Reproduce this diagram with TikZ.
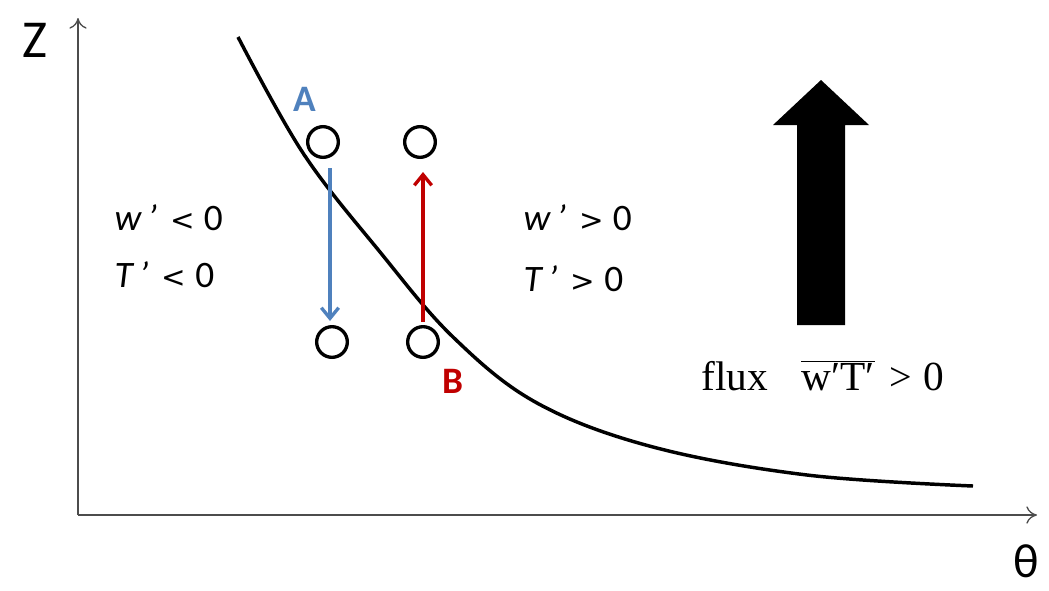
\documentclass[tikz,border=0pt]{standalone}
\usepackage{fontspec}
\setmainfont{Liberation Serif}
\setsansfont{Carlito}
\newfontfamily\relfont{DejaVu Sans}
\usetikzlibrary{arrows.meta}
\definecolor{ablue}{RGB}{79,129,189}
\definecolor{bred}{RGB}{192,0,0}
\newcommand{\rel}[1]{{\upshape\relfont\fontsize{22}{26}\selectfont #1}}
\begin{document}
\begin{tikzpicture}[x=0.75pt,y=-0.75pt,
  axis/.style={draw=black!70,line width=1pt,-{To[length=8pt,width=13pt]}},
  parcel/.style={circle,draw=black,line width=2.5pt,minimum size=23pt,inner sep=0pt},
  lbl/.style={font=\sffamily\itshape\fontsize{28}{32}\selectfont,anchor=west},
  pt/.style={font=\sffamily\bfseries\fontsize{28}{32}\selectfont}]
\useasboundingbox (0,0) rectangle (1049,590);
\coordinate (O) at (78,515);
\coordinate (ytop) at (78,18);
\coordinate (xend) at (1037,515);
\draw[axis] (O) -- (ytop);
\draw[axis] (O) -- (xend);
\node[font=\sffamily\fontsize{40}{44}\selectfont] (Z) at (35,40) {Z};
\node[font=\sffamily\fontsize{36}{40}\selectfont] (th) at (1026,561) {θ};
% curve
\draw[line width=2.6pt] plot[smooth,tension=0.6] coordinates {(238,37) (303,153) (380,252) (453,337) (537,403) (653,447) (807,475) (973,486)};
% parcels
\node[parcel] (a1) at (323,142) {};
\node[parcel] (b1) at (420,142) {};
\node[parcel] (a2) at (332,342) {};
\node[parcel] (b2) at (423,342) {};
\coordinate (as) at (330,168);
\coordinate (ae) at (330,321);
\coordinate (bs) at (423,322);
\coordinate (be) at (423,172);
\draw[ablue,line width=2.5pt,-{Straight Barb[length=8pt,width=13pt,line width=2.5pt]}] (as) -- (ae);
\draw[bred,line width=2.5pt,-{Straight Barb[length=8pt,width=13pt,line width=2.5pt]}] (bs) -- (be);
\node[pt,text=ablue] (A) at (305,99) {A};
\node[pt,text=bred] (B) at (453,381) {B};
% labels
\node[lbl] (l1) at (110,218) {w\,’\hspace{0.35em}\rel{<}\hspace{0.25em}\textup{0}};
\node[lbl] (l2) at (110,275) {T\,’\hspace{0.35em}\rel{<}\hspace{0.25em}\textup{0}};
\node[lbl] (r1) at (519,218) {w\,’\hspace{0.35em}\rel{>}\hspace{0.25em}\textup{0}};
\node[lbl] (r2) at (519,279) {T\,’\hspace{0.35em}\rel{>}\hspace{0.25em}\textup{0}};
% big arrow
\fill[black] (797,325) -- (797,125) -- (773,125) -- (821,80) -- (869,125) -- (845,125) -- (845,325) -- cycle;
\node[font=\fontsize{31}{36}\selectfont,anchor=west] (flux) at (697,376) {flux\hspace{0.8em}$\overline{\hbox{w′T′}}$\hspace{0.35em}{\fontsize{30}{32}\selectfont >}\hspace{0.3em}0};
\end{tikzpicture}
\end{document}
